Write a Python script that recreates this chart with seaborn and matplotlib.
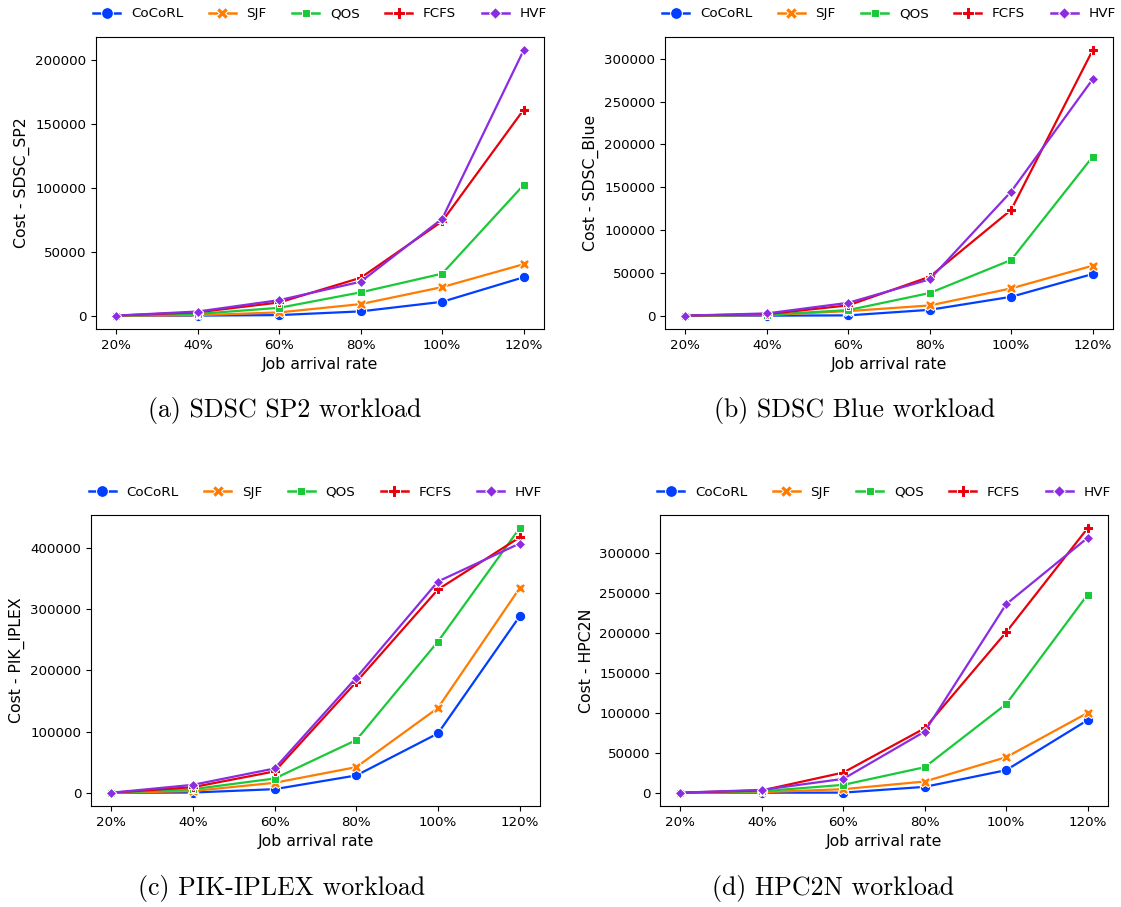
import matplotlib
matplotlib.use("Agg")
import matplotlib.pyplot as plt
import seaborn as sns
import pandas as pd

rates = ["20%", "40%", "60%", "80%", "100%", "120%"]
methods = ["CoCoRL", "SJF", "QOS", "FCFS", "HVF"]

# cost per method (rows follow `methods`), one list per workload
sdsc_sp2 = [
    [100, 200, 600, 3500, 11000, 30200],
    [100, 500, 2700, 9200, 22500, 40400],
    [150, 1500, 6300, 18400, 33000, 102400],
    [200, 2800, 10500, 29800, 74000, 161300],
    [200, 3400, 12300, 26700, 76000, 207800],
]
sdsc_blue = [
    [100, 200, 500, 7000, 22200, 48800],
    [100, 800, 5500, 12100, 32000, 58500],
    [100, 1200, 6700, 26600, 65200, 185700],
    [200, 2000, 12200, 45600, 123700, 310000],
    [200, 2800, 15200, 42600, 145100, 276100],
]
pik_iplex = [
    [100, 500, 6000, 28400, 97000, 288000],
    [100, 3000, 16400, 42000, 138600, 334000],
    [100, 6000, 23400, 86200, 247000, 432000],
    [200, 9300, 35000, 181000, 332000, 417000],
    [200, 13100, 39800, 188000, 345000, 407000],
]
hpc2n = [
    [100, 200, 300, 7500, 28400, 91000],
    [100, 800, 4600, 14200, 44600, 100000],
    [100, 2000, 10000, 32100, 111000, 248000],
    [200, 3000, 25400, 80800, 201000, 331000],
    [200, 3700, 17500, 76700, 236000, 319000],
]

panels = [
    (sdsc_sp2, "Cost - SDSC_SP2", "(a) SDSC SP2 workload"),
    (sdsc_blue, "Cost - SDSC_Blue", "(b) SDSC Blue workload"),
    (pik_iplex, "Cost - PIK_IPLEX", "(c) PIK-IPLEX workload"),
    (hpc2n, "Cost - HPC2N", "(d) HPC2N workload"),
]

W, H = 1121, 907
# axes boxes in pixels: left, top, right, bottom
boxes = [
    (96, 37, 544, 329),
    (665, 37, 1113, 329),
    (91, 515, 540, 806),
    (660, 515, 1108, 806),
]
caption_pos = [(285, 411), (855, 411), (281, 889), (833, 889)]


def to_frame(values):
    rows = []
    for m, vals in zip(methods, values):
        for r, v in zip(rates, vals):
            rows.append({"rate": r, "cost": v, "method": m})
    return pd.DataFrame(rows)


fig = plt.figure(figsize=(W / 100, H / 100), dpi=100)

for (values, ylabel, caption), (l, t, r, b), (cx, cy) in zip(panels, boxes, caption_pos):
    ax = fig.add_axes([l / W, 1 - b / H, (r - l) / W, (b - t) / H])
    df = to_frame(values)
    sns.lineplot(data=df, x="rate", y="cost", hue="method", style="method",
                 markers=True, dashes=False, palette="bright", ax=ax,
                 markersize=7.5, linewidth=1.6)
    ax.set_xlabel("Job arrival rate", fontsize=11.3)
    ax.set_ylabel(ylabel, fontsize=11.3)
    ax.tick_params(labelsize=9.6)
    leg = ax.legend(loc="lower center", bbox_to_anchor=(0.5, 1.015), ncol=5,
                    frameon=False, fontsize=9.7, columnspacing=1.9)
    for h in leg.legend_handles:
        h.set_markersize(8.5)
        h.set_linewidth(1.8)
    fig.text(cx / W, 1 - cy / H, caption, ha="center", va="center",
             fontsize=18.6, family=["cmr10", "DejaVu Serif"])

fig.savefig("out.png", dpi=100)
